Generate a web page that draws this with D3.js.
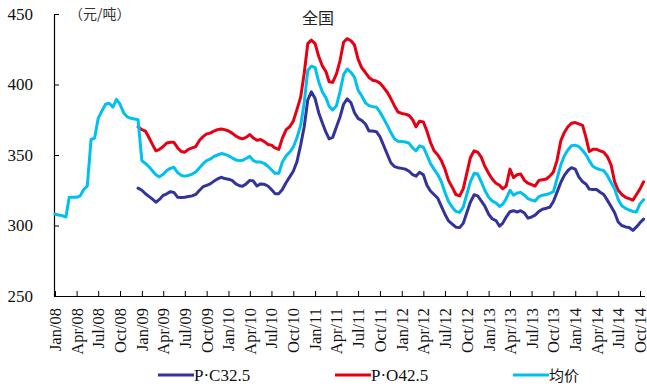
<!DOCTYPE html>
<html>
<head>
<meta charset="utf-8">
<script src="https://cdn.jsdelivr.net/npm/d3@7/dist/d3.min.js"></script>
<style>
  body { margin: 0; background: #fff; }
  svg { display: block; }
</style>
</head>
<body>
<svg id="chart" width="647" height="389"></svg>
<script>
// Semi-monthly observation dates
const periods = [
  "2008-01-01","2008-01-16","2008-02-01","2008-02-16","2008-03-01","2008-03-16","2008-04-01","2008-04-16","2008-05-01","2008-05-16","2008-06-01","2008-06-16",
  "2008-07-01","2008-07-16","2008-08-01","2008-08-16","2008-09-01","2008-09-16","2008-10-01","2008-10-16","2008-11-01","2008-11-16","2008-12-01","2008-12-16",
  "2009-01-01","2009-01-16","2009-02-01","2009-02-16","2009-03-01","2009-03-16","2009-04-01","2009-04-16","2009-05-01","2009-05-16","2009-06-01","2009-06-16",
  "2009-07-01","2009-07-16","2009-08-01","2009-08-16","2009-09-01","2009-09-16","2009-10-01","2009-10-16","2009-11-01","2009-11-16","2009-12-01","2009-12-16",
  "2010-01-01","2010-01-16","2010-02-01","2010-02-16","2010-03-01","2010-03-16","2010-04-01","2010-04-16","2010-05-01","2010-05-16","2010-06-01","2010-06-16",
  "2010-07-01","2010-07-16","2010-08-01","2010-08-16","2010-09-01","2010-09-16","2010-10-01","2010-10-16","2010-11-01","2010-11-16","2010-12-01","2010-12-16",
  "2011-01-01","2011-01-16","2011-02-01","2011-02-16","2011-03-01","2011-03-16","2011-04-01","2011-04-16","2011-05-01","2011-05-16","2011-06-01","2011-06-16",
  "2011-07-01","2011-07-16","2011-08-01","2011-08-16","2011-09-01","2011-09-16","2011-10-01","2011-10-16","2011-11-01","2011-11-16","2011-12-01","2011-12-16",
  "2012-01-01","2012-01-16","2012-02-01","2012-02-16","2012-03-01","2012-03-16","2012-04-01","2012-04-16","2012-05-01","2012-05-16","2012-06-01","2012-06-16",
  "2012-07-01","2012-07-16","2012-08-01","2012-08-16","2012-09-01","2012-09-16","2012-10-01","2012-10-16","2012-11-01","2012-11-16","2012-12-01","2012-12-16",
  "2013-01-01","2013-01-16","2013-02-01","2013-02-16","2013-03-01","2013-03-16","2013-04-01","2013-04-16","2013-05-01","2013-05-16","2013-06-01","2013-06-16",
  "2013-07-01","2013-07-16","2013-08-01","2013-08-16","2013-09-01","2013-09-16","2013-10-01","2013-10-16","2013-11-01","2013-11-16","2013-12-01","2013-12-16",
  "2014-01-01","2014-01-16","2014-02-01","2014-02-16","2014-03-01","2014-03-16","2014-04-01","2014-04-16","2014-05-01","2014-05-16","2014-06-01","2014-06-16",
  "2014-07-01","2014-07-16","2014-08-01","2014-08-16","2014-09-01","2014-09-16","2014-10-01","2014-10-16"
];

// P·C32.5 (元/吨)
const pc325 = [
  null,null,null,null,null,null,null,null,null,null,null,null,
  null,null,null,null,null,null,null,null,null,null,null,326.5,
  325,322.5,320.5,318.5,316.5,318.5,321.4,322.5,324,323.5,320,319.8,
  320,320.5,321,322,325,327.5,328.5,329.5,331.5,333,334.2,333.3,
  332.8,332,329.5,328.2,327.8,329.5,332,331.5,328,329.5,329.2,328,
  325.5,322.6,322.6,325.5,330.5,334.5,338.5,345,357,370,389,394.8,
  390,380,372.5,366,361.5,362.5,370,377,386,389.8,387,380,
  376,374.5,372,367,367,366.5,363,357,350.5,344.5,341.8,341,
  340.5,340,338.5,336,335,337.8,336,328.5,324.5,322,319.3,313.5,
  308,303.3,301,298.8,298.5,301.5,309,316.5,321.8,321,317.5,313.8,
  308,304.8,303.5,299.5,301.5,306,309.8,310.5,309.6,310.5,308.8,305.2,
  306,307.4,310,311.5,312.2,313,317,323.5,330.5,335.5,339,341,
  340,334.5,331,329.3,325.8,325.5,325.5,323.6,322,318,313.5,309,
  302.5,300,299,298.6,296.5,299,302,304.5
];

// P·O42.5 (元/吨)
const po425 = [
  null,null,null,null,null,null,null,null,null,null,null,null,
  null,null,null,null,null,null,null,null,null,null,null,370,
  368,367,362,357,353,354,356,358.5,359,359,355,352.5,
  352,354,355,356,360.5,363,365,365.5,367,368,368.5,368,
  367,365.5,363.5,362,361.5,362.5,364.5,362,360.5,361,359.5,357.5,
  357,355,354,362,368,370,374,382,391,408,429,431.5,
  429,420,413,409,402,401.5,407.5,417,430,432.5,431,428,
  418,412,408.5,405,403,402.5,401,398,394.5,390,385,380.5,
  379.5,379,378,375,370,374,373.5,367,359,353,350,346,
  340,332,327,322,321,326,337,348,353,352,348.5,342,
  337,333,330,328.5,326,328,340,334,336,336.5,332,330,
  329,328,332,332.5,333,335,338,346,360,366,370,372.5,
  373,372,371,362,352.5,354,354,353,352,349,343,331,
  325,322,320,319,318,322,326,331
];

// 均价 (元/吨)
const avgPrice = [
  308,307.5,307,306,320,320,320,321,325.5,328,361,362,
  376,381,386,386.7,384,389.5,386,380,377,376,375.5,375,
  346,344,341.5,338.5,336,334.5,336.3,339,340.5,341.3,337.5,335.5,
  335,335.5,336.5,338,341,343.8,346,347,349,350,351,350.5,
  349.5,348,346.5,346,346.2,347.5,349,346,345,345,344,342,
  339.5,337,337,345,349.5,352,355.5,362,371,387,410,413,
  412,402,394.5,390.5,384.5,382,385,395,407,411,408.6,405,
  396,392,387,385,384.3,384,380.5,376,371,366,361.5,359.8,
  359.5,359.2,358.3,355,353,356.5,355.6,350,344,340,336,331,
  323.5,317,313,310,309.3,313,322,331,337,336.5,331,325,
  320,317.5,316,313.5,315,319,325,321.5,323,323.5,321.5,319,
  318,317.4,320.5,321.5,322,322.8,324,333,343,349.5,353.5,356.5,
  357,356,353.2,350,346,342,340.4,339.6,339,335.5,330.5,326,
  318.5,314,312.2,311,310,309.6,315.5,318.3
];

const tickLabels = [
  "Jan/08","Apr/08","Jul/08","Oct/08","Jan/09","Apr/09","Jul/09","Oct/09",
  "Jan/10","Apr/10","Jul/10","Oct/10","Jan/11","Apr/11","Jul/11","Oct/11",
  "Jan/12","Apr/12","Jul/12","Oct/12","Jan/13","Apr/13","Jul/13","Oct/13",
  "Jan/14","Apr/14","Jul/14","Oct/14"
];
const yTicks = [250, 300, 350, 400, 450];

const seriesNames = ["P·C32.5", "P·O42.5", "均价"];
const seriesColors = ["#333399", "#e60012", "#00c0f0"];

const parseDay = d3.timeParse("%Y-%m-%d");
const parseTick = d3.timeParse("%b/%y");
const dates = periods.map(parseDay);
const tickDates = tickLabels.map(parseTick);

const svg = d3.select("#chart");
const serif = "'Liberation Serif', 'Times New Roman', serif";
const cjk = "'Noto Sans CJK SC', sans-serif";

const x = d3.scaleTime()
  .domain([dates[0], dates[dates.length - 1]])
  .range([55, 643.6]);
const y = d3.scaleLinear().domain([250, 450]).range([296, 14]);

// y axis
const yAxis = svg.append("g")
  .attr("transform", "translate(54,0)")
  .call(d3.axisLeft(y).tickValues(yTicks).tickSizeInner(-5).tickSizeOuter(0).tickPadding(21));
yAxis.select(".domain").attr("stroke", "#000").attr("stroke-width", 1.2);
yAxis.selectAll(".tick line").attr("stroke", "#000");
yAxis.selectAll("text")
  .attr("font-family", serif).attr("font-size", 17).attr("fill", "#111");

// x axis
const xAxis = svg.append("g")
  .attr("transform", "translate(0,296)")
  .call(d3.axisBottom(x).tickValues(tickDates).tickSizeInner(-5).tickSizeOuter(0)
    .tickFormat((d, i) => tickLabels[i]));
xAxis.select(".domain").attr("stroke", "#000").attr("stroke-width", 1.2)
  .attr("d", `M${54},0.5H${645}`);
xAxis.selectAll(".tick line").attr("stroke", "#000");
xAxis.selectAll("text")
  .attr("font-family", serif).attr("font-size", 16.5).attr("fill", "#111")
  .attr("text-anchor", "end")
  .attr("transform", "rotate(-90)")
  .attr("x", -12).attr("y", 0).attr("dy", "0.33em");

// series lines
const seriesData = [pc325, po425, avgPrice];
const line = d3.line()
  .defined(d => d.v != null)
  .x(d => x(d.t))
  .y(d => y(d.v));

seriesData.forEach((vals, k) => {
  svg.append("path")
    .datum(vals.map((v, i) => ({ t: dates[i], v })))
    .attr("fill", "none")
    .attr("stroke", seriesColors[k])
    .attr("stroke-width", 3)
    .attr("stroke-linejoin", "round")
    .attr("stroke-linecap", "round")
    .attr("d", line);
});

// unit and title
svg.append("text").attr("x", 69).attr("y", 19)
  .attr("font-family", cjk).attr("font-size", 14).attr("fill", "#333")
  .text("（元/吨）");
svg.append("text").attr("x", 318).attr("y", 24).attr("text-anchor", "middle")
  .attr("font-family", cjk).attr("font-size", 16).attr("fill", "#222")
  .text("全国");

// legend
const legendX = [158, 335, 513];
seriesNames.forEach((name, k) => {
  const g = svg.append("g").attr("transform", `translate(${legendX[k]},375)`);
  g.append("line").attr("x1", 0).attr("x2", 36).attr("y1", 0).attr("y2", 0)
    .attr("stroke", seriesColors[k]).attr("stroke-width", 3);
  g.append("text").attr("x", 36).attr("y", 6)
    .attr("font-family", /[\u4e00-\u9fff]/.test(name) ? cjk : serif)
    .attr("font-size", /[\u4e00-\u9fff]/.test(name) ? 15 : 17)
    .attr("fill", "#111")
    .text(name);
});
</script>
</body>
</html>
